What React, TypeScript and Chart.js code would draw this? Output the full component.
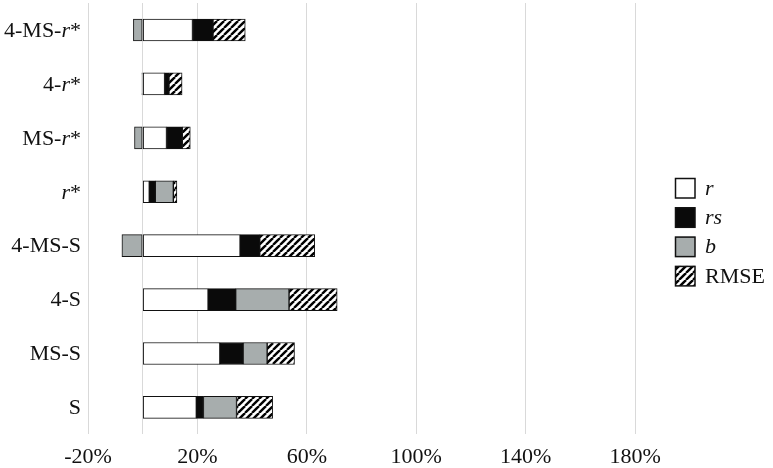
import React, { useEffect, useRef } from 'react';
import { Chart, registerables } from 'chart.js';
Chart.register(...registerables);

const categories = ['4-MS-r*', '4-r*', 'MS-r*', 'r*', '4-MS-S', '4-S', 'MS-S', 'S'];
const seriesNames = ['r', 'rs', 'b', 'RMSE'];
const seriesItalic = [true, true, true, false];
const rValues = [18.2, 8.0, 8.7, 2.4, 35.6, 23.9, 28.2, 19.6];
const rsValues = [7.5, 1.6, 5.8, 2.2, 7.2, 10.1, 8.5, 2.6];
const bValues = [-3.4, -0.3, -3.0, 6.6, -7.6, 19.5, 8.8, 12.1];
const rmseValues = [11.8, 4.8, 2.9, 1.3, 20.1, 17.6, 10.0, 13.2];
const xTickValues = [-20, 0, 20, 60, 100, 140, 180];
const xLabelValues = [-20, 20, 60, 100, 140, 180];

const FONT = '"Liberation Serif", "Times New Roman", Times, serif';

function makeHatch(): CanvasPattern | string {
  const s = 7;
  const c = document.createElement('canvas');
  c.width = s;
  c.height = s;
  const g = c.getContext('2d');
  if (!g) return '#888';
  g.fillStyle = '#ffffff';
  g.fillRect(0, 0, s, s);
  g.strokeStyle = '#000000';
  g.lineWidth = 2.4;
  for (const k of [-1, 0, 1]) {
    g.beginPath();
    g.moveTo(k * s, s);
    g.lineTo(k * s + s, 0);
    g.stroke();
  }
  const p = g.createPattern(c, 'repeat');
  return p || '#888';
}

function labelParts(c: string) {
  if (c.endsWith('r*')) {
    return [
      { t: c.slice(0, -2), i: false },
      { t: 'r', i: true },
      { t: '*', i: false },
    ];
  }
  return [{ t: c, i: false }];
}

const customDraw = {
  id: 'customDraw',
  afterDraw(chart: any) {
    const ctx = chart.ctx as CanvasRenderingContext2D;
    const yScale = chart.scales.y;
    ctx.save();
    ctx.fillStyle = '#111';
    ctx.textBaseline = 'middle';
    categories.forEach((c, idx) => {
      const y = yScale.getPixelForValue(idx);
      const parts = labelParts(c);
      const widths = parts.map((p) => {
        ctx.font = `${p.i ? 'italic ' : ''}22px ${FONT}`;
        return ctx.measureText(p.t).width;
      });
      const total = widths.reduce((a, b) => a + b, 0);
      let x = 81 - total;
      ctx.textAlign = 'left';
      parts.forEach((p, k) => {
        ctx.font = `${p.i ? 'italic ' : ''}22px ${FONT}`;
        ctx.fillText(p.t, x, y + 1);
        x += widths[k];
      });
    });
    chart.data.datasets.forEach((ds: any, i: number) => {
      const bx = 675;
      const by = 178 + i * 29.3;
      ctx.fillStyle = ds.backgroundColor;
      ctx.fillRect(bx, by, 20, 20);
      ctx.strokeStyle = '#111';
      ctx.lineWidth = 1.5;
      ctx.strokeRect(bx + 0.5, by + 0.5, 19.5, 19.5);
      ctx.fillStyle = '#111';
      ctx.font = `${seriesItalic[i] ? 'italic ' : ''}22px ${FONT}`;
      ctx.textAlign = 'left';
      ctx.fillText(ds.label, 705, by + 11);
    });
    ctx.restore();
  },
};

export default function App() {
  const ref = useRef<HTMLCanvasElement | null>(null);
  useEffect(() => {
    document.body.style.margin = '0';
    const canvas = ref.current;
    if (!canvas) return;
    let chart: Chart | null = null;
    let cancelled = false;
    const build = () => {
      if (cancelled) return;
      const hatch = makeHatch();
      const colors: any[] = ['#ffffff', '#0a0a0a', '#a7adad', hatch];
      const values = [rValues, rsValues, bValues, rmseValues];
      chart = new Chart(canvas, {
        type: 'bar',
        data: {
          labels: categories,
          datasets: seriesNames.map((n, i) => ({
            label: n,
            data: values[i],
            backgroundColor: colors[i],
            borderColor: '#111',
            borderWidth: 1,
            borderSkipped: false,
            barThickness: 22,
          })),
        },
        options: {
          indexAxis: 'y',
          animation: false,
          responsive: false,
          maintainAspectRatio: false,
          layout: { padding: { left: 88, right: 110.6, top: 3, bottom: -12 } },
          plugins: {
            legend: { display: false },
            tooltip: { enabled: false },
          },
          scales: {
            x: {
              stacked: true,
              min: -20,
              max: 190,
              afterBuildTicks: (scale: any) => {
                scale.ticks = xTickValues.map((v) => ({ value: v }));
              },
              grid: { color: '#d9d9d9', lineWidth: 1, drawTicks: false },
              border: { display: false },
              ticks: {
                autoSkip: false,
                maxRotation: 0,
                padding: 9.6,
                color: '#111',
                font: { family: FONT, size: 22 },
                callback: (v: any) => (xLabelValues.includes(Number(v)) ? `${v}%` : ''),
              },
            },
            y: {
              stacked: true,
              display: false,
            },
          },
        },
        plugins: [customDraw],
      } as any);
    };
    const fontsAny = (document as any).fonts;
    if (fontsAny && fontsAny.load) {
      Promise.all([
        fontsAny.load('22px "Liberation Serif"'),
        fontsAny.load('italic 22px "Liberation Serif"'),
      ])
        .catch(() => null)
        .then(build);
    } else {
      build();
    }
    return () => {
      cancelled = true;
      if (chart) chart.destroy();
    };
  }, []);
  return (
    <div style={{ width: 773, height: 468, fontFamily: FONT }}>
      <canvas ref={ref} width={773} height={468} style={{ display: 'block' }} />
    </div>
  );
}
